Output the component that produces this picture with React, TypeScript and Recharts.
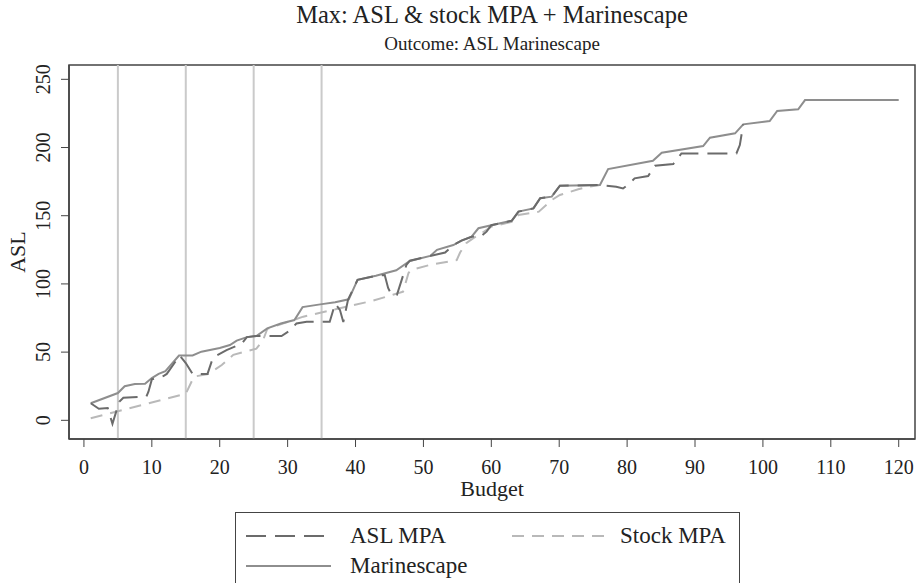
import React from "react";
import { LineChart, Line, XAxis, YAxis, ReferenceLine, ReferenceArea, Label } from "recharts";

// budget ticks and ASL ticks
const budgetTicks = [0, 10, 20, 30, 40, 50, 60, 70, 80, 90, 100, 110, 120];
const aslTicks = [0, 50, 100, 150, 200, 250];
const markBudgets = [5, 15, 25, 35];

// Marinescape
const marineBudget = [1, 5, 6, 7.5, 9, 10, 11, 12, 14, 16, 17.3, 20, 21.5, 22.5, 24, 25.4, 27, 29, 31, 32.2, 34.8, 37, 39, 40.3, 43, 46, 48, 51, 52, 54.4, 55.6, 57.1, 58.1, 60, 63, 64, 66.2, 67.2, 68.9, 70.1, 76, 77.2, 83.8, 85.1, 91.2, 92.2, 95.9, 97.1, 101, 102.1, 105.2, 106.2, 120];
const marineASL = [12.5, 20, 25, 26.6, 26.8, 31, 34, 36, 47.5, 47.5, 50.3, 53, 55.2, 58.4, 61, 61.8, 67.4, 71, 73.5, 83, 85, 86.5, 88.7, 103, 106, 110, 116.8, 120.5, 125, 128.5, 131.7, 134.6, 140.8, 143, 146.3, 153, 155.4, 162.8, 164, 172, 172.5, 184.2, 190.3, 196.2, 201.1, 207.2, 210.4, 217, 219.4, 226.8, 228, 234.8, 234.8];

// ASL MPA
const aslMpaBudget = [1, 2.2, 3.5, 4.2, 5.2, 5.8, 9.2, 9.5, 10, 11.7, 12.2, 14.1, 15, 16, 18.2, 19, 21, 23.2, 24, 25.4, 29.1, 30.1, 31.3, 32.8, 36.2, 37, 37.7, 38.2, 38.9, 40.3, 43, 44.3, 44.8, 45.3, 46.1, 46.8, 47.5, 48, 53.2, 54.4, 55.6, 57.1, 58.5, 59.3, 60, 63, 64, 66.2, 67.2, 68.9, 70.1, 76, 78.4, 79.4, 80.4, 81.1, 83.1, 84.1, 86.8, 88, 96.1, 96.6, 97.1];
const aslMpaASL = [12.5, 8.5, 9, -2.5, 13.6, 16.5, 17.5, 21, 30, 32.5, 34, 47.5, 42, 34, 34, 46, 51.5, 56, 61, 61.8, 61.8, 65, 71, 72.3, 72.3, 85.5, 81, 72, 88.5, 103, 106, 106.5, 97, 92, 92, 103, 114, 117, 123, 128.5, 131.7, 134.6, 135, 138.3, 143, 146.3, 153, 155.4, 162.8, 164, 172, 172.5, 171.3, 170, 173.8, 177.4, 179.1, 186.7, 187.9, 195.7, 195.7, 201.8, 217];

// Stock MPA
const stockMpaBudget = [1, 15, 16.2, 18.3, 20.3, 22, 25.4, 26.4, 27, 32.3, 42.4, 45.5, 47, 47.8, 48.2, 51, 54.9, 55.4, 56.3, 57.3, 58.5, 60, 63, 64, 67, 68.9, 70.1, 72.8, 74.5, 76];
const stockMpaASL = [1.5, 19.5, 32, 34, 40.5, 48, 52.5, 59, 67, 76, 87.5, 92, 94.3, 108, 110.2, 114, 117.5, 123, 129.8, 133.4, 137, 142, 145.5, 150.5, 153, 161.5, 165.2, 169.4, 171.3, 172.5];

const toPoints = (xs: number[], ys: number[]) => xs.map((x, i) => ({ budget: x, asl: ys[i] }));

const series = [
  { name: "ASL MPA", data: toPoints(aslMpaBudget, aslMpaASL), color: "#6b6b6b", dash: "20 9" },
  { name: "Stock MPA", data: toPoints(stockMpaBudget, stockMpaASL), color: "#b9b9b9", dash: "12 8" },
  { name: "Marinescape", data: toPoints(marineBudget, marineASL), color: "#8e8e8e", dash: undefined as string | undefined },
];

const FONT = "'Liberation Serif', 'Times New Roman', serif";
const xDomain = [-2.2, 122.4];
const yDomain = [-13.7, 260.5];

const YTick = (props: any) => {
  const { x, y, payload } = props;
  return (
    <text x={x} y={y} transform={`rotate(-90 ${x} ${y})`} textAnchor="middle" fontSize={20} fill="#222" fontFamily={FONT}>
      {payload.value}
    </text>
  );
};

const LegendBox = () => {
  const item = (s: typeof series[0], left: number, top: number, len: number, gap: number) => (
    <div key={s.name} style={{ position: "absolute", left, top, height: 26, display: "flex", alignItems: "center" }}>
      <svg width={len} height={6} style={{ display: "block" }}>
        <line x1={0} y1={3} x2={len} y2={3} stroke={s.color} strokeWidth={2} strokeDasharray={s.dash} />
      </svg>
      <span style={{ marginLeft: gap, fontSize: 23, color: "#222", whiteSpace: "nowrap" }}>{s.name}</span>
    </div>
  );
  return (
    <div style={{ position: "absolute", left: 235, top: 512, width: 505, height: 80, border: "1.5px solid #444", boxSizing: "border-box", fontFamily: FONT }}>
      {item(series[0], 10, 10, 85, 19)}
      {item(series[1], 276, 10, 96, 12)}
      {item(series[2], 10, 40, 85, 19)}
    </div>
  );
};

export default function App() {
  return (
    <div style={{ position: "absolute", left: 0, top: 0, width: 923, height: 583, background: "#fff", overflow: "hidden", fontFamily: FONT }}>
      <div style={{ position: "absolute", left: 69, width: 846, top: 1, textAlign: "center", fontSize: 24.5, color: "#222" }}>
        Max: ASL &amp; stock MPA + Marinescape
      </div>
      <div style={{ position: "absolute", left: 69, width: 846, top: 33, textAlign: "center", fontSize: 19, color: "#222" }}>
        Outcome: ASL Marinescape
      </div>
      <LineChart width={923} height={583} margin={{ top: 65, right: 8, left: 0, bottom: 0 }}>
        <XAxis
          dataKey="budget"
          type="number"
          domain={xDomain}
          ticks={budgetTicks}
          allowDataOverflow
          height={144}
          tickSize={8}
          tickMargin={13}
          tick={{ fontSize: 20, fill: "#222", fontFamily: FONT }}
          stroke="#444"
          axisLine={{ stroke: "#444", strokeWidth: 1.5 }}
        >
          <Label
            content={(p: any) => (
              <text x={p.viewBox.x + p.viewBox.width / 2} y={p.viewBox.y + 57} textAnchor="middle" fontSize={22} fill="#222" fontFamily={FONT}>
                Budget
              </text>
            )}
          />
        </XAxis>
        <YAxis
          type="number"
          domain={yDomain}
          ticks={aslTicks}
          allowDataOverflow
          width={69}
          tickSize={8}
          tickMargin={11}
          tick={<YTick />}
          stroke="#444"
          axisLine={{ stroke: "#444", strokeWidth: 1.5 }}
        >
          <Label
            content={(p: any) => {
              const cx = 25;
              const cy = p.viewBox.y + p.viewBox.height / 2;
              return (
                <text x={cx} y={cy} transform={`rotate(-90 ${cx} ${cy})`} textAnchor="middle" fontSize={22} fill="#222" fontFamily={FONT}>
                  ASL
                </text>
              );
            }}
          />
        </YAxis>
        <ReferenceArea x1={xDomain[0]} x2={xDomain[1]} y1={yDomain[0]} y2={yDomain[1]} fill="none" stroke="#444" strokeWidth={1.5} />
        {markBudgets.map((b) => (
          <ReferenceLine key={b} x={b} stroke="#cacaca" strokeWidth={2} />
        ))}
        {[series[1], series[2], series[0]].map((s) => (
          <Line
            key={s.name}
            data={s.data}
            dataKey="asl"
            name={s.name}
            type="linear"
            dot={false}
            stroke={s.color}
            strokeWidth={2}
            strokeDasharray={s.dash}
            isAnimationActive={false}
          />
        ))}
      </LineChart>
      <LegendBox />
    </div>
  );
}
